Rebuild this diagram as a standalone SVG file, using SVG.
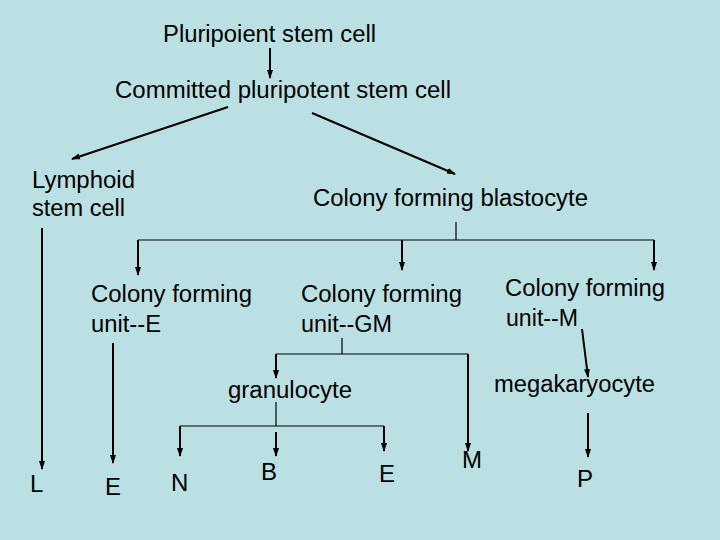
<svg xmlns="http://www.w3.org/2000/svg" width="720" height="540" viewBox="0 0 720 540">
<defs>
<marker id="ah" markerWidth="9" markerHeight="8" refX="8" refY="4" orient="auto" markerUnits="userSpaceOnUse">
<path d="M0,1 L9,4 L0,7 Z" fill="#000"/>
</marker>
<style>
text{font-family:"Liberation Sans",Arial,sans-serif;font-size:23px;fill:#000}
.s{font-size:24px}
.c line,.c path{stroke:#000;stroke-width:2;fill:none}
.t{stroke-width:1.2 !important}
</style>
</defs>
<rect width="720" height="540" fill="#BBE0E3"/>
<g id="pluripotent"><text x="163" y="42" textLength="213" lengthAdjust="spacingAndGlyphs">Pluripoient stem cell</text></g>
<g id="committed"><text x="115" y="98" textLength="336" lengthAdjust="spacingAndGlyphs">Committed pluripotent stem cell</text></g>
<g id="lymphoid"><text x="32" y="188" textLength="103" lengthAdjust="spacingAndGlyphs">Lymphoid</text><text x="32" y="216" textLength="93" lengthAdjust="spacingAndGlyphs">stem cell</text></g>
<g id="blastocyte"><text x="313" y="206" textLength="275" lengthAdjust="spacingAndGlyphs">Colony forming blastocyte</text></g>
<g id="cfuE"><text x="91" y="302" textLength="161" lengthAdjust="spacingAndGlyphs">Colony forming</text><text x="91" y="332" textLength="70" lengthAdjust="spacingAndGlyphs">unit--E</text></g>
<g id="cfuGM"><text x="301" y="302" textLength="161" lengthAdjust="spacingAndGlyphs">Colony forming</text><text x="301" y="332" textLength="91" lengthAdjust="spacingAndGlyphs">unit--GM</text></g>
<g id="cfuM"><text x="505" y="296" textLength="160" lengthAdjust="spacingAndGlyphs">Colony forming</text><text x="506" y="326" textLength="72" lengthAdjust="spacingAndGlyphs">unit--M</text></g>
<g id="granulocyte"><text x="228" y="398" textLength="124" lengthAdjust="spacingAndGlyphs">granulocyte</text></g>
<g id="megakaryocyte"><text x="494" y="392" textLength="161" lengthAdjust="spacingAndGlyphs">megakaryocyte</text></g>
<g id="L"><text class="s" x="30" y="492">L</text></g>
<g id="E1"><text class="s" x="105" y="495">E</text></g>
<g id="N"><text class="s" x="171" y="491">N</text></g>
<g id="B"><text class="s" x="261" y="480">B</text></g>
<g id="E2"><text class="s" x="379" y="482">E</text></g>
<g id="M"><text class="s" x="462" y="468">M</text></g>
<g id="P"><text class="s" x="577" y="487">P</text></g>
<g id="connectors" class="c">
<line x1="270" y1="48" x2="270" y2="78" marker-end="url(#ah)"/>
<line x1="228" y1="107" x2="72" y2="159" marker-end="url(#ah)"/>
<line x1="312" y1="113" x2="455" y2="174" marker-end="url(#ah)"/>
<line x1="42" y1="228" x2="42" y2="469" marker-end="url(#ah)"/>
<line class="t" x1="456" y1="222" x2="456" y2="240"/>
<path class="t" d="M138,240 H654"/>
<line x1="138" y1="240" x2="138" y2="275" marker-end="url(#ah)"/>
<line x1="402" y1="240" x2="402" y2="270" marker-end="url(#ah)"/>
<line x1="654" y1="240" x2="654" y2="270" marker-end="url(#ah)"/>
<line x1="113" y1="343" x2="113" y2="463" marker-end="url(#ah)"/>
<line class="t" x1="342" y1="338" x2="342" y2="354"/>
<path class="t" d="M276,354 H468"/>
<line x1="276" y1="354" x2="276" y2="378" marker-end="url(#ah)"/>
<line x1="468" y1="354" x2="468" y2="451" marker-end="url(#ah)"/>
<line x1="582" y1="329" x2="588" y2="377" marker-end="url(#ah)"/>
<line class="t" x1="276" y1="402" x2="276" y2="426"/>
<path class="t" d="M180,426 H384"/>
<line x1="180" y1="426" x2="180" y2="456" marker-end="url(#ah)"/>
<line x1="276" y1="432" x2="276" y2="456" marker-end="url(#ah)"/>
<line x1="384" y1="426" x2="384" y2="451" marker-end="url(#ah)"/>
<line x1="588" y1="413" x2="588" y2="457" marker-end="url(#ah)"/>
</g>
</svg>
